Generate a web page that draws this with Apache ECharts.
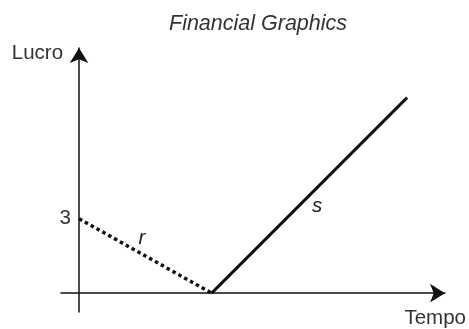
<!DOCTYPE html>
<html>
<head>
<meta charset="utf-8">
<script src="https://cdn.jsdelivr.net/npm/echarts@6/dist/echarts.min.js"></script>
<style>
  html, body { margin: 0; padding: 0; background: #fff; }
  #chart { width: 469px; height: 329px; }
</style>
</head>
<body>
<div id="chart"></div>
<script>
// reta r (pontilhada) e reta s (continua)
var rLine = [[0, 3], [5, 0]]
var sLine = [[5, 0], [12.37, 7.88]]
// posicao dos rotulos das retas
var lineLabels = [
  { name: 'r', value: [2.37, 2.2] },
  { name: 's', value: [8.98, 3.52] }
]
var yTicks = [3]

var font = 'Liberation Sans, Arial, Helvetica, sans-serif'
var chart = echarts.init(document.getElementById('chart'))

chart.setOption({
  animation: false,
  title: {
    text: 'Financial Graphics',
    left: 164,
    top: 8,
    textStyle: {
      fontFamily: font,
      fontSize: 21.5,
      fontStyle: 'italic',
      fontWeight: 'normal',
      color: '#333'
    }
  },
  grid: { left: 61, right: 23, top: 48, bottom: 15 },
  xAxis: {
    type: 'value',
    min: -0.68,
    max: 13.8,
    name: 'Tempo',
    nameLocation: 'end',
    nameGap: 21,
    nameTextStyle: {
      fontFamily: font, fontSize: 20.5, color: '#333',
      align: 'right', verticalAlign: 'top', padding: [15, 0, 0, 0]
    },
    axisLine: {
      onZero: true,
      symbol: ['none', 'arrow'],
      symbolSize: [14, 15],
      lineStyle: { color: '#111', width: 1.5 }
    },
    axisTick: { show: false },
    axisLabel: { show: false },
    splitLine: { show: false }
  },
  yAxis: {
    type: 'value',
    min: -0.76,
    max: 9.88,
    name: 'Lucro',
    nameLocation: 'end',
    nameGap: -5,
    nameTextStyle: {
      fontFamily: font, fontSize: 20.5, color: '#333',
      align: 'right', verticalAlign: 'middle', padding: [0, 16, 0, 0]
    },
    axisLine: {
      onZero: true,
      symbol: ['none', 'arrow'],
      symbolSize: [14, 15],
      lineStyle: { color: '#111', width: 1.5 }
    },
    axisTick: { show: false },
    axisLabel: {
      customValues: yTicks,
      margin: -10,
      fontFamily: font,
      fontSize: 20.5,
      color: '#333'
    },
    splitLine: { show: false }
  },
  series: [
    {
      name: 'r',
      type: 'line',
      data: rLine,
      symbol: 'none',
      lineStyle: { color: '#111', width: 3.5, type: [3.5, 3.2], cap: 'butt' }
    },
    {
      name: 's',
      type: 'line',
      data: sLine,
      symbol: 'none',
      lineStyle: { color: '#111', width: 3 }
    },
    {
      type: 'scatter',
      data: lineLabels,
      symbolSize: 0,
      itemStyle: { opacity: 1 },
      label: {
        show: true,
        position: 'inside',
        formatter: '{b}',
        fontFamily: font,
        fontSize: 20.5,
        fontStyle: 'italic',
        color: '#222'
      }
    }
  ]
})
</script>
</body>
</html>
